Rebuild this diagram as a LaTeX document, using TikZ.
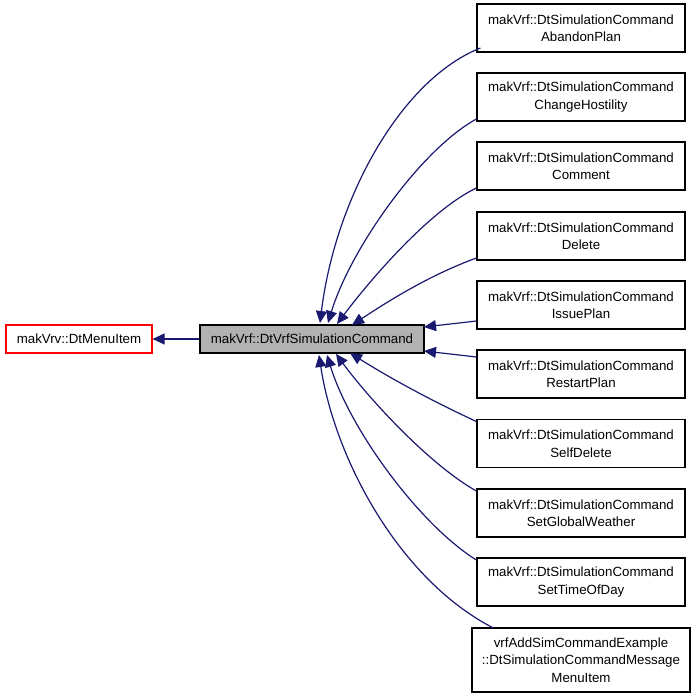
\documentclass[tikz,border=0pt]{standalone}
\usepackage{fontspec}
\setmainfont{Liberation Sans}
\usetikzlibrary{arrows.meta,calc}
\begin{document}
\begin{tikzpicture}[x=1pt,y=-1pt,line width=1.2pt,
 box/.style={draw=black,fill=white,minimum width=208pt,minimum height=48pt,align=center,font=\fontsize{13.3}{17.5}\selectfont,inner sep=1pt},
 edge/.style={draw=navy,-{Triangle[length=12pt,width=11pt,fill=navy]}},
]
\definecolor{navy}{RGB}{25,25,112}
\useasboundingbox (0,0) rectangle (696,699);
\node[draw=red,minimum width=146pt,minimum height=28pt,font=\fontsize{13.3}{16}\selectfont,inner sep=1pt] (left) at (79,339) {makVrv::DtMenuItem};
\node[draw=black,fill=black!30,minimum width=224pt,minimum height=28pt,font=\fontsize{13.3}{16}\selectfont,inner sep=1pt] (mid) at (312,339) {makVrf::DtVrfSimulationCommand};
\foreach \i/\y/\t in {1/28/AbandonPlan,2/97/ChangeHostility,3/166/Comment,4/236/Delete,5/305/IssuePlan,6/374/RestartPlan,7/443.5/SelfDelete,8/513/SetGlobalWeather,9/582/SetTimeOfDay}
  \node[box] (b\i) at (581,\y) {makVrf::DtSimulationCommand\\\t};
\node[box,minimum width=218pt,minimum height=64pt] (b10) at (581,660) {vrfAddSimCommandExample\\::DtSimulationCommandMessage\\MenuItem};
\coordinate (e1) at (320,323);
\coordinate (e2) at (328,323);
\coordinate (e3) at (337,324);
\coordinate (e4) at (352,325);
\coordinate (e5) at (424,327);
\coordinate (e6) at (424,351);
\coordinate (e7) at (350,353);
\coordinate (e8) at (336,354);
\coordinate (e9) at (327,355);
\coordinate (e10) at (319,355);
\draw[edge] (mid) -- (left);
\draw[edge] (b1.west) ++(4,20) .. controls (400,80) and (335,200) .. (e1);
\draw[edge] (b2.west) ++(0,22) .. controls (420,150) and (350,250) .. (e2);
\draw[edge] (b3.west) ++(0,22) .. controls (430,210) and (370,280) .. (e3);
\draw[edge] (b4.west) ++(0,22) .. controls (430,275) and (390,300) .. (e4);
\draw[edge] (b5.west) ++(0,16) -- (e5);
\draw[edge] (b6.west) ++(0,-17) -- (e6);
\draw[edge] (b7.west) ++(0,-22) .. controls (430,400) and (390,378) .. (e7);
\draw[edge] (b8.west) ++(0,-22) .. controls (430,465) and (370,400) .. (e8);
\draw[edge] (b9.west) ++(0,-22) .. controls (420,525) and (350,430) .. (e9);
\draw[edge] (b10.west) ++(22,-32) .. controls (400,580) and (335,460) .. (e10);
\end{tikzpicture}
\end{document}
